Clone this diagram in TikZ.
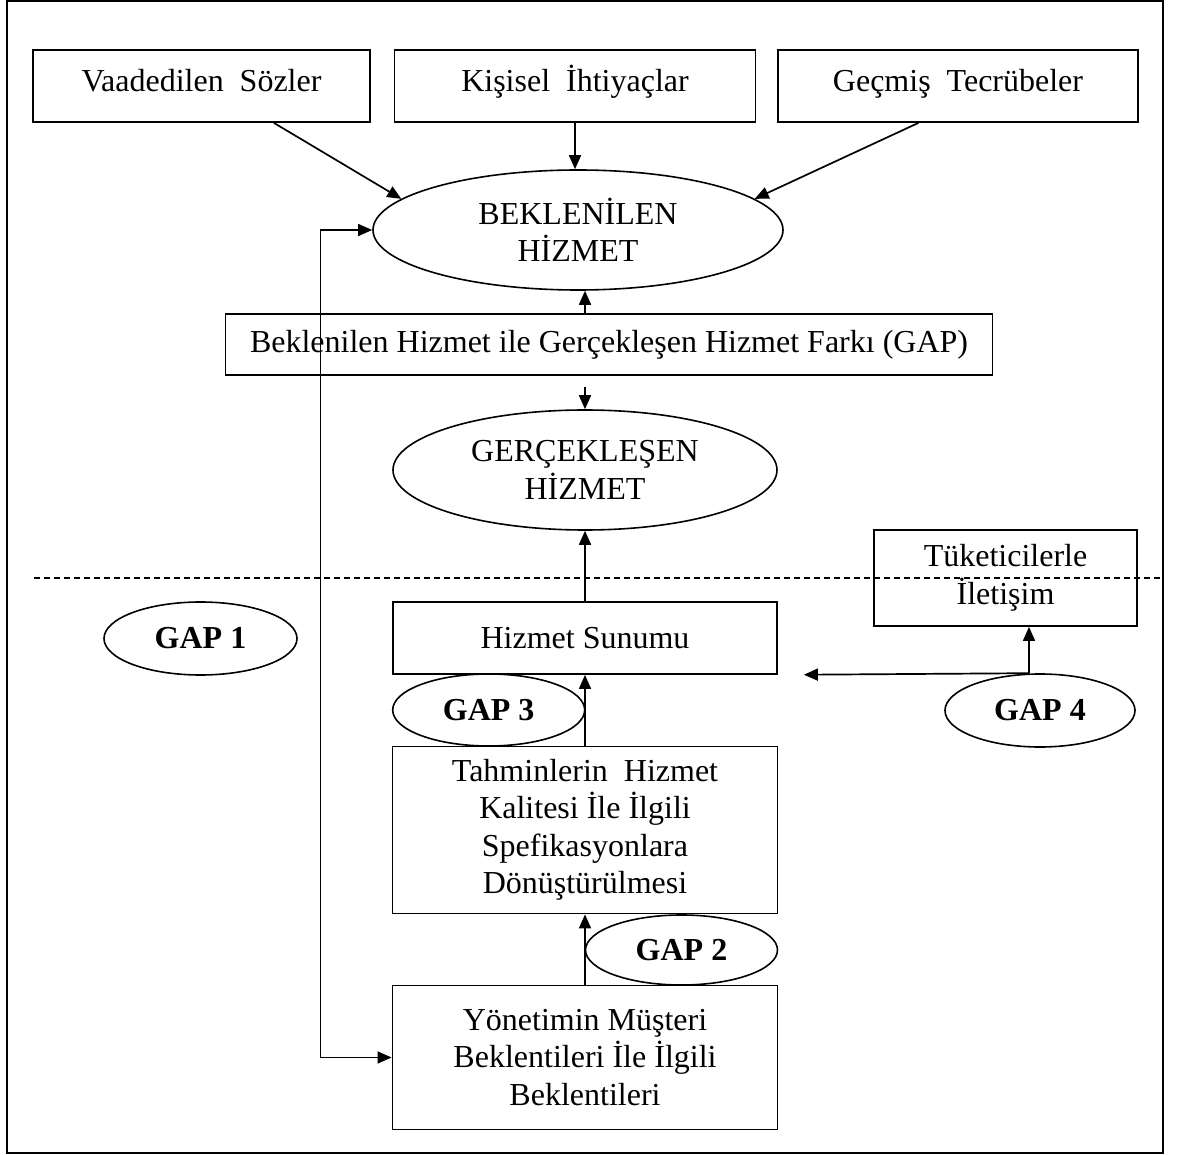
\documentclass[tikz,border=0pt]{standalone}
\usepackage{fontspec}
\setmainfont{Liberation Serif}
\usetikzlibrary{shapes.geometric,arrows.meta}
\newcommand{\boxfont}{\fontsize{32}{37.5}\selectfont}

\begin{document}
\begin{tikzpicture}[x=1pt,y=-1pt,
        >={Triangle[length=14pt,width=12pt]},
        box/.style={draw,line width=1.8pt,align=center,inner sep=0pt,font=\boxfont},
        topbox/.style={box,minimum height=72pt,text height=22pt,text depth=10pt},
        oval/.style={ellipse,draw,line width=1.6pt,align=center,inner sep=0pt,font=\boxfont},
        gap/.style={oval,font=\boxfont\bfseries,minimum width=192pt,minimum height=72pt},
        arr/.style={->,line width=1.7pt}]
    \useasboundingbox (0,0) rectangle (1179,1155);
    \draw[line width=2pt] (7,1.5) rectangle (1163,1153);
    \draw[line width=1.5pt,dash pattern=on 6pt off 4pt] (34,578) -- (1160,578);

    % top row
    \node[topbox,minimum width=337pt] (vs) at (201.5,86) {Vaadedilen~ Sözler};
    \node[topbox,minimum width=361pt] (ki) at (575,86) {Kişisel~ İhtiyaçlar};
    \node[topbox,minimum width=360pt] (gt) at (958,86) {Geçmiş~ Tecrübeler};

    \node[oval,minimum width=410pt,minimum height=120pt] (bh) at (578,230) {BEKLENİLEN\\HİZMET};
    \node[box,minimum width=767pt,minimum height=61pt] (gb) at (609,344.5)
        {Beklenilen Hizmet ile Gerçekleşen Hizmet Farkı (GAP)};
    \node[oval,minimum width=384pt,minimum height=120pt] (ge) at (585,470) {GERÇEKLEŞEN\\HİZMET};

    % lower part
    \node[box,minimum width=263pt,minimum height=96pt] (tu) at (1005.5,578) {Tüketicilerle\\İletişim};
    \node[box,minimum width=384pt,minimum height=72pt] (su) at (585,638) {Hizmet Sunumu};
    \node[box,minimum width=385pt,minimum height=167pt] (ta) at (585,830)
        {Tahminlerin~ Hizmet\\Kalitesi İle İlgili\\Spefikasyonlara\\Dönüştürülmesi};
    \node[box,minimum width=385pt,minimum height=144pt] (yo) at (585,1057.5)
        {Yönetimin Müşteri\\Beklentileri İle İlgili\\Beklentileri};

    \node[gap,minimum width=193pt,minimum height=73pt] (g1) at (200.5,638.5) {GAP 1};
    \node[gap,minimum height=70pt] (g2) at (681.5,950) {GAP 2};
    \node[gap] (g3) at (488.7,710) {GAP 3};
    \node[gap,minimum width=190pt,minimum height=73pt] (g4) at (1040,710.5) {GAP 4};

    \path[arr]
        (vs.-27) edge (bh.170)
        (ki.south) edge (ki.south |- bh.north)
        (gt.223) edge (bh.10)
        (su) edge (ge)
        (ta) edge (su)
        (yo) edge (ta);
    \draw[arr] (gb.north -| ge.north) -- (bh.south -| ge.north);
    \draw[arr,shorten <=11pt] (gb.south -| ge.north) -- (ge.north);
    \draw[arr] ([xshift=-11pt]g4.north) -- ([xshift=-11pt]g4.north |- tu.south);
    \draw[arr,shorten >=26pt] ([xshift=-11pt]g4.north) -- (su.south east);
    \draw[<->,line width=1.4pt] (bh.west) -- ++(-52,0) |- (yo.west);
\end{tikzpicture}
\end{document}
